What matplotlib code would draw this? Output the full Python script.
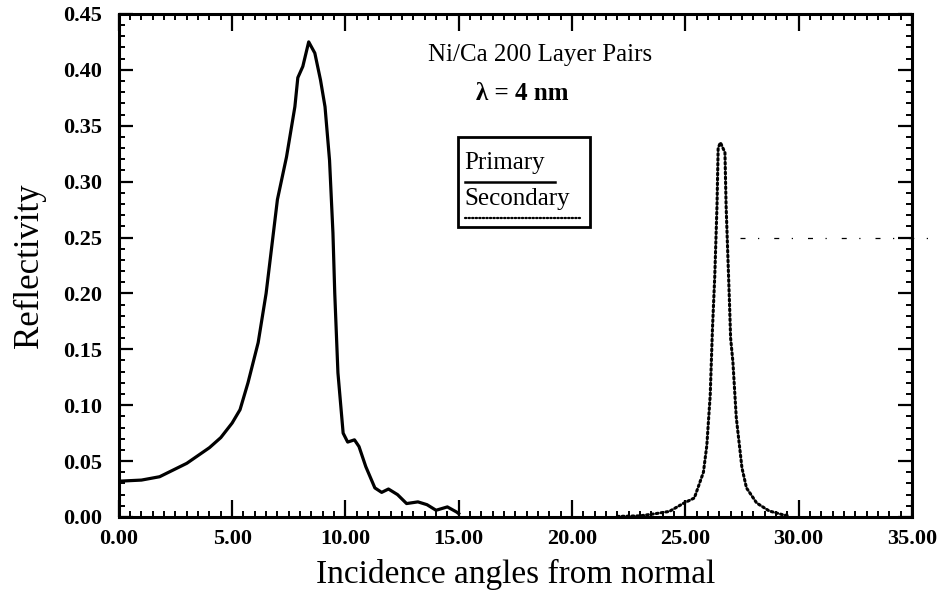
import numpy as np
import matplotlib
matplotlib.use("Agg")
import matplotlib.pyplot as plt
from matplotlib.patches import Rectangle
from matplotlib.lines import Line2D
from matplotlib.ticker import MultipleLocator, FormatStrFormatter

# primary order reflectivity vs incidence angle (deg)
primary_angle = [0.0, 1.0, 1.8, 3.0, 4.0, 4.5, 5.0, 5.35, 5.7, 6.15, 6.5,
                 7.0, 7.4, 7.77, 7.9, 8.12, 8.38, 8.65, 8.9, 9.1, 9.3,
                 9.45, 9.53, 9.67, 9.9, 10.1, 10.4, 10.6, 10.9, 11.3,
                 11.6, 11.9, 12.3, 12.7, 13.2, 13.6, 14.0, 14.5, 14.9, 15.0]
primary_refl = [0.032, 0.033, 0.036, 0.048, 0.062, 0.071, 0.084, 0.096, 0.12,
                0.156, 0.2, 0.284, 0.322, 0.367, 0.393, 0.403, 0.425, 0.415,
                0.391, 0.367, 0.319, 0.254, 0.2, 0.129, 0.075, 0.067, 0.069,
                0.063, 0.045, 0.026, 0.022, 0.025, 0.02, 0.012, 0.0135,
                0.011, 0.006, 0.009, 0.0045, 0.003]

# secondary order
secondary_angle = [22.0, 23.0, 23.7, 24.3, 24.9, 25.4, 25.8, 25.95, 26.1,
                   26.2, 26.3, 26.4, 26.45, 26.55, 26.75, 26.8, 26.95, 27.0,
                   27.1, 27.25, 27.5, 27.7, 28.15, 28.7, 29.3, 29.6]
secondary_refl = [0.0005, 0.001, 0.003, 0.005, 0.012, 0.017, 0.04, 0.064,
                  0.109, 0.169, 0.215, 0.279, 0.33, 0.335, 0.326, 0.279,
                  0.192, 0.16, 0.139, 0.089, 0.044, 0.026, 0.0125, 0.0054,
                  0.002, 0.001]

x_ticks = [0, 5, 10, 15, 20, 25, 30, 35]
y_ticks = [0.0, 0.05, 0.10, 0.15, 0.20, 0.25, 0.30, 0.35, 0.40, 0.45]

serif = "Liberation Serif"

fig = plt.figure(figsize=(9.43, 5.96), dpi=100)
ax = fig.add_axes([0.126, 0.1326, 0.841, 0.844])

ax.plot(primary_angle, primary_refl, color="black", lw=2.3,
        solid_joinstyle="round")
ax.plot(secondary_angle, secondary_refl, color="black", lw=2.2,
        linestyle=(0, (0.6, 1.0)), dash_capstyle="round")

# faint stray line across the right side
ax.plot([27.4, 36.4], [0.25, 0.25], color="black", lw=0.9,
        linestyle=(0, (4, 10, 1, 12)), clip_on=False)

ax.set_xlim(0, 35)
ax.set_ylim(0, 0.45)
ax.set_xticks(x_ticks)
ax.set_yticks(y_ticks)
ax.xaxis.set_minor_locator(MultipleLocator(0.5))
ax.yaxis.set_minor_locator(MultipleLocator(0.01))
ax.xaxis.set_major_formatter(FormatStrFormatter("%.2f"))
ax.yaxis.set_major_formatter(FormatStrFormatter("%.2f"))

ax.tick_params(axis="both", which="both", direction="in",
               top=True, right=True, color="black")
ax.tick_params(axis="x", which="major", length=12, width=1.6, pad=9)
ax.tick_params(axis="y", which="major", length=10, width=1.6, pad=12)
ax.tick_params(axis="both", which="minor", length=4, width=1.4)

for lab in ax.get_xticklabels() + ax.get_yticklabels():
    lab.set_fontfamily(serif)
    lab.set_fontweight("bold")
    lab.set_fontsize(16)

for sp in ax.spines.values():
    sp.set_linewidth(2.2)

ax.set_xlabel("Incidence angles from normal", fontfamily=serif,
              fontsize=24, labelpad=7)
ax.set_ylabel("Reflectivity", fontfamily=serif, fontsize=25, labelpad=12)

ax.text(18.6, 0.413, "Ni/Ca 200 Layer Pairs", fontfamily=serif,
        fontsize=18, ha="center", va="center")
ax.text(17.8, 0.379, "λ = 4 nm", fontfamily=serif, fontsize=18,
        fontweight="bold", ha="center", va="center")

# hand-made legend: label text sitting over a sample of each line style
tr = ax.transAxes
ax.add_patch(Rectangle((0.4275, 0.5765), 0.1665, 0.179, transform=tr,
                       fill=False, lw=2.0, ec="black"))
ax.text(0.436, 0.704, "Primary", transform=tr, fontfamily=serif,
        fontsize=18, ha="left", va="center")
ax.add_line(Line2D([0.436, 0.55], [0.666, 0.666], transform=tr,
                   color="black", lw=1.8))
ax.text(0.436, 0.632, "Secondary", transform=tr, fontfamily=serif,
        fontsize=18, ha="left", va="center")
ax.add_line(Line2D([0.436, 0.581], [0.594, 0.594], transform=tr,
                   color="black", lw=1.6, linestyle=(0, (0.6, 1.0)),
                   dash_capstyle="round"))

fig.savefig("out.png", dpi=100)
